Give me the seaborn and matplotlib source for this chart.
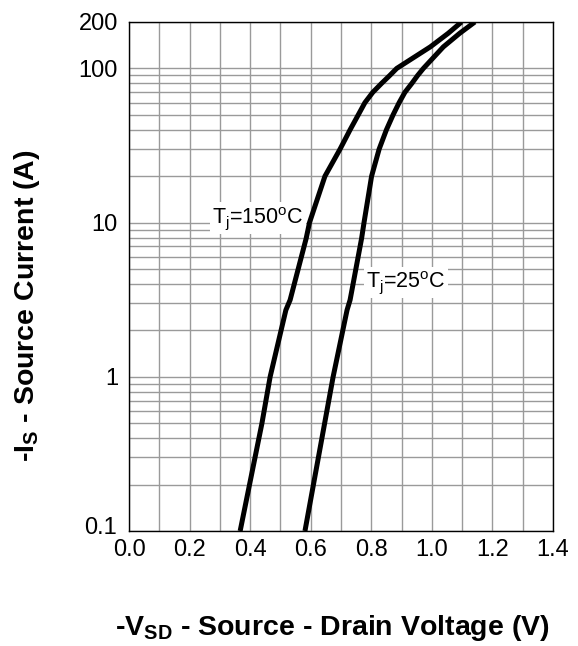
import numpy as np
import pandas as pd
import matplotlib
matplotlib.use("Agg")
import matplotlib.pyplot as plt
import matplotlib.transforms as mtransforms
import seaborn as sns
from matplotlib.ticker import FixedLocator, NullFormatter

# data
v_150 = [0.367, 0.439, 0.466, 0.518, 0.532, 0.585, 0.596, 0.647, 0.697, 0.730, 0.757,
         0.779, 0.805, 0.834, 0.861, 0.884, 0.995, 1.054, 1.098]
i_150 = [0.1, 0.5, 1.0, 2.71, 3.15, 7.9, 10.0, 20.0, 30.0, 40.0, 50.0,
         60.0, 70.0, 80.0, 90.0, 100.0, 138.0, 169.0, 200.0]
v_25 = [0.581, 0.646, 0.674, 0.720, 0.730, 0.768, 0.776, 0.801, 0.826, 0.850, 0.872,
        0.892, 0.911, 0.934, 0.953, 0.972, 1.038, 1.092, 1.142]
i_25 = [0.1, 0.5, 1.0, 2.71, 3.15, 7.9, 10.0, 20.0, 30.0, 40.0, 50.0,
        60.0, 70.0, 80.0, 90.0, 100.0, 138.0, 169.0, 200.0]
x_ticks = [0.0, 0.2, 0.4, 0.6, 0.8, 1.0, 1.2, 1.4]
y_ticks = [0.1, 1, 10, 100, 200]
y_ticklabels = ["0.1", "1", "10", "100", "200"]

sns.set_style("white")
plt.rcParams['font.family'] = ['Liberation Sans', 'DejaVu Sans']
plt.rcParams['mathtext.fontset'] = 'custom'
plt.rcParams['mathtext.rm'] = 'Liberation Sans'
plt.rcParams['mathtext.it'] = 'Liberation Sans:italic'
plt.rcParams['mathtext.bf'] = 'Liberation Sans:bold'
plt.rcParams['text.color'] = 'black'
plt.rcParams['axes.labelcolor'] = 'black'
plt.rcParams['xtick.color'] = 'black'
plt.rcParams['ytick.color'] = 'black'

df = pd.concat([
    pd.DataFrame({"V": v_150, "I": i_150, "T": "150"}),
    pd.DataFrame({"V": v_25, "I": i_25, "T": "25"}),
])

fig = plt.figure(figsize=(5.78, 6.46), dpi=100)
ax = fig.add_axes([129/578, 1-531/646, (553-129)/578, (531-22)/646])

sns.lineplot(data=df, x="V", y="I", units="T", estimator=None, sort=False,
             color="black", linewidth=3.6, ax=ax, legend=False, zorder=3)
for ln in ax.lines:
    ln.set_solid_joinstyle("round")
    ln.set_solid_capstyle("butt")

ax.set_yscale("log")
ax.set_xlim(0, 1.4)
ax.set_ylim(0.1, 200)

# grid
minor_y = []
for dec in [0.1, 1, 10]:
    minor_y += [dec * k for k in range(2, 10)]
ax.yaxis.set_minor_locator(FixedLocator(minor_y))
ax.yaxis.set_minor_formatter(NullFormatter())
ax.yaxis.set_major_locator(FixedLocator(y_ticks))
ax.set_yticklabels(y_ticklabels)
ax.set_xticks(x_ticks)
ax.set_xticklabels([f"{t:.1f}" for t in x_ticks])
ax.xaxis.set_minor_locator(FixedLocator([0.1, 0.3, 0.5, 0.7, 0.9, 1.1, 1.3]))
ax.grid(True, which="both", color="#9a9a9a", linewidth=1.0, zorder=0)
ax.set_axisbelow(True)
ax.tick_params(which="both", length=0, labelsize=17, colors="black", labelcolor="black")
ax.tick_params(axis="x", pad=6)
ax.tick_params(axis="y", pad=8)
for s in ax.spines.values():
    s.set_color("black")
    s.set_linewidth(1.0)

# nudge the 0.1 label up-left a little as in the reference
lab01 = ax.get_yticklabels()[0]
lab01.set_transform(lab01.get_transform() +
                    mtransforms.ScaledTranslation(-1/100, 5/100, fig.dpi_scale_trans))

ax.set_xlabel("")
ax.set_ylabel("")

bbox = dict(facecolor="white", edgecolor="none", pad=1.5)
ax.text(0.425, 10.7, r"T$_\mathrm{j}$=150$^\mathrm{o}$C", fontsize=15.5, ha="center",
        va="center", bbox=bbox, zorder=2, color="black")
ax.text(0.915, 4.1, r"T$_\mathrm{j}$=25$^\mathrm{o}$C", fontsize=15.5, ha="center",
        va="center", bbox=bbox, zorder=2, color="black")

fig.text(332/578, 1-628/646, r"-V$_{\mathbf{SD}}$ - Source - Drain Voltage (V)",
         fontsize=20.5, fontweight="bold", ha="center", va="center", color="black")
fig.text(27/578, 1-306/646, r"-I$_{\mathbf{S}}$ - Source Current (A)",
         fontsize=20.5, fontweight="bold", ha="center", va="center", rotation=90,
         color="black")

fig.savefig("out.png", dpi=100, facecolor="white")
